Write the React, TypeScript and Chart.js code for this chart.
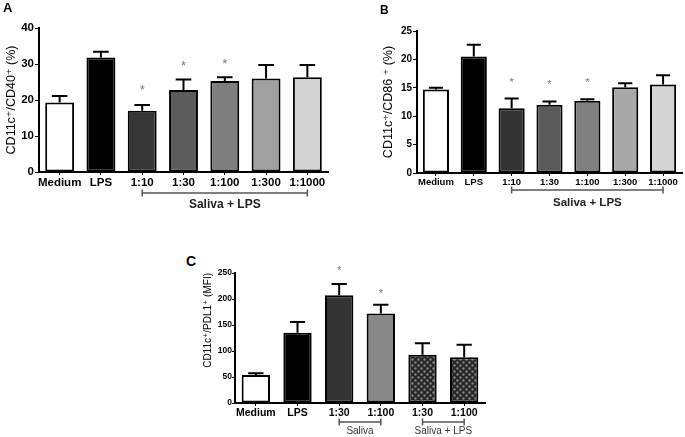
import React, { useEffect, useRef } from "react";
import { Chart, registerables } from "chart.js";
Chart.register(...registerables);

const FONT = "'Liberation Sans', Arial, 'DejaVu Sans', sans-serif";

// ---------- Panel A : CD11c+/CD40+ (%) ----------
const categoriesA = ["Medium", "LPS", "1:10", "1:30", "1:100", "1:300", "1:1000"];
const valuesA = [19.3, 31.8, 17.0, 22.8, 25.3, 26.0, 26.3];
const errorTopA = [21.1, 33.4, 18.6, 25.7, 26.3, 29.7, 29.7];
const starsA = [null, null, 23.6, 30.3, 30.8, null, null];
const ticksA = [0, 10, 20, 30, 40];
const colorsA = ["#ffffff", "#000000", "#363636", "#5c5c5c", "#7e7e7e", "#a0a0a0", "#d2d2d2"];
const groupsA = [{ label: "Saliva + LPS", from: 2, to: 6 }];

// ---------- Panel B : CD11c+/CD86+ (%) ----------
const categoriesB = ["Medium", "LPS", "1:10", "1:30", "1:100", "1:300", "1:1000"];
const valuesB = [14.7, 20.5, 11.4, 12.0, 12.7, 15.1, 15.6];
const errorTopB = [15.0, 22.6, 13.1, 12.6, 13.0, 15.8, 17.2];
const starsB = [null, null, 16.4, 16.0, 16.4, null, null];
const ticksB = [0, 5, 10, 15, 20, 25];
const colorsB = ["#ffffff", "#000000", "#333333", "#5a5a5a", "#808080", "#a8a8a8", "#d4d4d4"];
const groupsB = [{ label: "Saliva + LPS", from: 2, to: 6 }];

// ---------- Panel C : CD11c+/PDL1+ (MFI) ----------
const categoriesC = ["Medium", "LPS", "1:30", "1:100", "1:30", "1:100"];
const valuesC = [54, 135, 207, 172, 93, 88];
const errorTopC = [57, 156, 229, 189, 115, 112];
const starsC = [null, null, 260, 215, null, null];
const ticksC = [0, 50, 100, 150, 200, 250];
const colorsC = ["#ffffff", "#000000", "#333333", "#888888", "pattern", "pattern"];
const groupsC = [
  { label: "Saliva", from: 2, to: 3 },
  { label: "Saliva + LPS", from: 4, to: 5 },
];

function makePattern(): CanvasPattern | string {
  const c = document.createElement("canvas");
  c.width = 6;
  c.height = 6;
  const g = c.getContext("2d");
  if (!g) return "#444";
  g.fillStyle = "#262626";
  g.fillRect(0, 0, 6, 6);
  g.fillStyle = "#8a8a8a";
  g.beginPath();
  g.arc(1.5, 1.5, 1.2, 0, Math.PI * 2);
  g.arc(4.5, 4.5, 1.2, 0, Math.PI * 2);
  g.fill();
  return g.createPattern(c, "repeat") || "#444";
}

type PanelDef = {
  letter: string;
  letterLeft: number;
  letterTop: number;
  letterSize: number;
  left: number;
  top: number;
  width: number;
  height: number;
  padTop: number;
  padRight: number;
  yWidth: number;
  xHeight: number;
  categories: string[];
  values: number[];
  errorTop: number[];
  stars: (number | null)[];
  ticks: number[];
  colors: string[];
  groups: { label: string; from: number; to: number }[];
  yTitle: string;
  yTitleSize: number;
  yTitlePad: number;
  yTitleAlign: "center" | "end";
  yTickSize: number;
  yTickLen: number;
  yTickPad: number;
  xTickSize: number;
  barPct: number;
  bracketDy: number;
  textDy: number;
  groupFont: string;
  groupColor: string;
  starSize: number;
};

const panels: PanelDef[] = [
  {
    letter: "A", letterLeft: 3, letterTop: 1, letterSize: 13,
    left: 0, top: 0, width: 335, height: 215,
    padTop: 28, padRight: 7, yWidth: 39, xHeight: 43,
    categories: categoriesA, values: valuesA, errorTop: errorTopA, stars: starsA,
    ticks: ticksA, colors: colorsA, groups: groupsA,
    yTitle: "CD11c\u207A/CD40\u207A (%)", yTitleSize: 12.5, yTitlePad: 4, yTitleAlign: "center",
    yTickSize: 11.5, yTickLen: 4, yTickPad: 1, xTickSize: 11.5, barPct: 0.7,
    bracketDy: 21, textDy: 33, groupFont: `bold 12px ${FONT}`, groupColor: "#222", starSize: 13,
  },
  {
    letter: "B", letterLeft: 380, letterTop: 4, letterSize: 12,
    left: 377, top: 0, width: 308, height: 215,
    padTop: 31, padRight: 3, yWidth: 40, xHeight: 42,
    categories: categoriesB, values: valuesB, errorTop: errorTopB, stars: starsB,
    ticks: ticksB, colors: colorsB, groups: groupsB,
    yTitle: "CD11c\u207A/CD86 \u207A (%)", yTitleSize: 12.5, yTitlePad: 4, yTitleAlign: "center",
    yTickSize: 10, yTickLen: 4, yTickPad: 1, xTickSize: 9.5, barPct: 0.69,
    bracketDy: 17, textDy: 30, groupFont: `bold 11.5px ${FONT}`, groupColor: "#222", starSize: 11,
  },
  {
    letter: "C", letterLeft: 186, letterTop: 254, letterSize: 14,
    left: 201, top: 220, width: 291, height: 217,
    padTop: 53, padRight: 7, yWidth: 34, xHeight: 34,
    categories: categoriesC, values: valuesC, errorTop: errorTopC, stars: starsC,
    ticks: ticksC, colors: colorsC, groups: groupsC,
    yTitle: "CD11c\u207A/PDL1\u207A (MFI)", yTitleSize: 10, yTitlePad: 1, yTitleAlign: "end",
    yTickSize: 8.5, yTickLen: 3, yTickPad: 0, xTickSize: 10.5, barPct: 0.68,
    bracketDy: 19, textDy: 28, groupFont: `10px ${FONT}`, groupColor: "#333", starSize: 11,
  },
];

function makeDecor(p: PanelDef) {
  return {
    id: "decor" + p.letter,
    afterDatasetsDraw(chart: any) {
      const ctx = chart.ctx as CanvasRenderingContext2D;
      const ys = chart.scales.y;
      const xs = chart.scales.x;
      const meta = chart.getDatasetMeta(0);
      ctx.save();
      meta.data.forEach((bar: any, i: number) => {
        const top = ys.getPixelForValue(p.errorTop[i]);
        const cx = bar.x;
        const half = bar.width * 0.27;
        ctx.strokeStyle = "#000";
        ctx.lineWidth = 2;
        ctx.beginPath();
        ctx.moveTo(cx, bar.y);
        ctx.lineTo(cx, top);
        ctx.moveTo(cx - half, top);
        ctx.lineTo(cx + half, top);
        ctx.stroke();
        const s = p.stars[i];
        if (s !== null && s !== undefined) {
          const sy = ys.getPixelForValue(s);
          ctx.fillStyle = "#777";
          ctx.font = `${p.starSize}px ${FONT}`;
          ctx.textAlign = "center";
          ctx.textBaseline = "alphabetic";
          ctx.fillText("*", cx, sy + p.starSize * 0.55);
        }
      });
      const base = chart.chartArea.bottom;
      p.groups.forEach((g) => {
        const x1 = xs.getPixelForValue(g.from);
        const x2 = xs.getPixelForValue(g.to);
        const by = base + p.bracketDy;
        ctx.strokeStyle = "#555";
        ctx.lineWidth = 1.5;
        ctx.beginPath();
        ctx.moveTo(x1, by);
        ctx.lineTo(x2, by);
        ctx.moveTo(x1, by - 3.5);
        ctx.lineTo(x1, by + 3.5);
        ctx.moveTo(x2, by - 3.5);
        ctx.lineTo(x2, by + 3.5);
        ctx.stroke();
        ctx.fillStyle = p.groupColor;
        ctx.font = p.groupFont;
        ctx.textAlign = "center";
        ctx.textBaseline = "middle";
        ctx.fillText(g.label, (x1 + x2) / 2, base + p.textDy);
      });
      ctx.restore();
    },
  };
}

function PanelChart({ p }: { p: PanelDef }) {
  const ref = useRef<HTMLCanvasElement>(null);
  useEffect(() => {
    if (!ref.current) return;
    const pattern = makePattern();
    const bg = p.colors.map((c) => (c === "pattern" ? pattern : c));
    const chart = new Chart(ref.current, {
      type: "bar",
      data: {
        labels: p.categories,
        datasets: [
          {
            data: p.values,
            backgroundColor: bg as any,
            borderColor: "#000",
            borderWidth: 2,
            borderSkipped: false,
            barPercentage: p.barPct,
            categoryPercentage: 1,
          },
        ],
      },
      options: {
        responsive: false,
        animation: false,
        devicePixelRatio: 1,
        layout: { padding: { top: p.padTop, right: p.padRight, left: 0, bottom: 0 } },
        plugins: { legend: { display: false }, tooltip: { enabled: false }, title: { display: false } },
        scales: {
          x: {
            offset: true,
            border: { color: "#000", width: 2 },
            grid: { display: true, drawOnChartArea: false, drawTicks: true, tickLength: 3, color: "#000", tickColor: "#000", offset: false },
            ticks: {
              color: "#000",
              autoSkip: false,
              maxRotation: 0,
              padding: 1,
              font: { family: FONT, size: p.xTickSize, weight: "bold" },
            },
            afterFit: (s: any) => {
              s.height = p.xHeight;
            },
          },
          y: {
            min: p.ticks[0],
            max: p.ticks[p.ticks.length - 1],
            border: { color: "#000", width: 2 },
            grid: { display: true, drawOnChartArea: false, drawTicks: true, tickLength: p.yTickLen, color: "#000", tickColor: "#000" },
            ticks: {
              stepSize: p.ticks[1] - p.ticks[0],
              color: "#000",
              padding: p.yTickPad,
              font: { family: FONT, size: p.yTickSize, weight: "bold" },
            },
            title: {
              display: true,
              text: p.yTitle,
              color: "#000",
              align: p.yTitleAlign,
              padding: { top: p.yTitlePad, bottom: 0 },
              font: { family: FONT, size: p.yTitleSize },
            },
            afterFit: (s: any) => {
              s.width = p.yWidth;
            },
          },
        },
      },
      plugins: [makeDecor(p)],
    } as any);
    return () => chart.destroy();
  }, [p]);
  return (
    <div style={{ position: "absolute", left: p.left, top: p.top, width: p.width, height: p.height }}>
      <canvas ref={ref} width={p.width} height={p.height} style={{ width: p.width, height: p.height, display: "block" }} />
    </div>
  );
}

export default function App() {
  return (
    <div style={{ position: "fixed", left: 0, top: 0, width: 685, height: 437, background: "#fff", overflow: "hidden" }}>
      {panels.map((p) => (
        <PanelChart key={p.letter} p={p} />
      ))}
      {panels.map((p) => (
        <div
          key={"L" + p.letter}
          style={{
            position: "absolute",
            left: p.letterLeft,
            top: p.letterTop,
            fontFamily: FONT,
            fontWeight: "bold",
            fontSize: p.letterSize,
            lineHeight: 1,
            color: "#000",
          }}
        >
          {p.letter}
        </div>
      ))}
    </div>
  );
}
